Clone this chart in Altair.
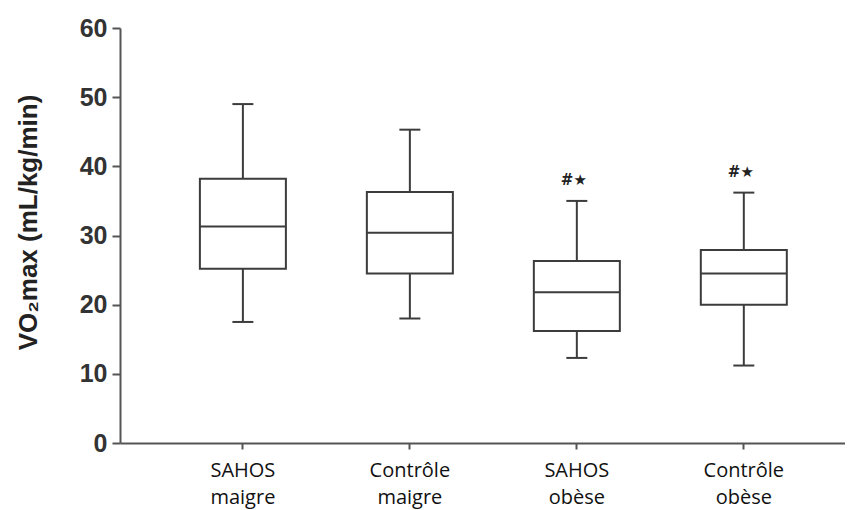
import altair as alt
import pandas as pd

groups = ["SAHOS maigre", "Contrôle maigre", "SAHOS obèse", "Contrôle obèse"]
lower = [17.5, 18.0, 12.3, 11.2]
q1 = [25.2, 24.5, 16.2, 20.0]
median = [31.3, 30.4, 21.8, 24.5]
q3 = [38.2, 36.3, 26.3, 27.9]
upper = [49.0, 45.3, 35.0, 36.2]
marks = ["", "", "#★", "#★"]

df = pd.DataFrame({"g": groups, "lo": lower, "q1": q1, "med": median,
                   "q3": q3, "hi": upper, "sig": marks})

LINE = "#3c3c3c"
BOLDF = "Liberation Sans"

x = alt.X("g:N", sort=groups, title=None,
          scale=alt.Scale(paddingInner=0, paddingOuter=0.171, align=0.69),
          axis=alt.Axis(labelAngle=0, labelExpr="split(datum.label, ' ')",
                        labelFont="Open Sans", labelFontSize=20, labelColor="#111",
                        labelLineHeight=27, labelPadding=11, labelBaseline="top",
                        tickSize=6, tickColor="#555", tickWidth=2,
                        domainColor="#555", domainWidth=2))

base = alt.Chart(df)

yscale = alt.Scale(domain=[0, 60], nice=False)
yax = alt.Axis(values=[0, 10, 20, 30, 40, 50, 60], grid=False,
               labelFont=BOLDF, labelFontWeight="bold", labelFontSize=25,
               labelColor="#333", labelPadding=5, tickSize=8, tickColor="#555",
               tickWidth=2, domainColor="#555", domainWidth=2,
               title="VO₂max (mL/kg/min)", titleFont=BOLDF,
               titleFontWeight="bold", titleFontSize=26, titleColor="#222",
               titleX=-92, titleY=194, titleBaseline="middle", titleAlign="center")

whisk_lo = base.mark_rule(color=LINE, strokeWidth=2).encode(
    x=x, y=alt.Y("lo:Q", scale=yscale, axis=yax), y2="q1:Q")
whisk_hi = base.mark_rule(color=LINE, strokeWidth=2).encode(
    x=x, y=alt.Y("q3:Q"), y2="hi:Q")
box = base.mark_bar(fill="white", stroke=LINE, strokeWidth=2, size=86).encode(
    x=x, y=alt.Y("q1:Q"), y2="q3:Q")
med = base.mark_tick(color=LINE, opacity=1, thickness=2, size=86).encode(x=x, y=alt.Y("med:Q"))
cap_lo = base.mark_tick(color=LINE, opacity=1, thickness=2, size=21).encode(x=x, y=alt.Y("lo:Q"))
cap_hi = base.mark_tick(color=LINE, opacity=1, thickness=2, size=21).encode(x=x, y=alt.Y("hi:Q"))
sig = base.mark_text(font="DejaVu Sans", fontWeight="bold", fontSize=15,
                     color="#222", dy=-21, dx=-3).encode(x=x, y=alt.Y("hi:Q"), text="sig:N")

chart = alt.layer(whisk_lo, whisk_hi, box, med, cap_lo, cap_hi, sig).properties(
    width=725, height=415,
    autosize=alt.AutoSizeParams(type="none"),
    padding={"left": 112, "top": 20, "right": 0, "bottom": 67},
).configure_view(stroke=None)

chart.save("out.html", embed_options={"renderer": "svg", "actions": False})
